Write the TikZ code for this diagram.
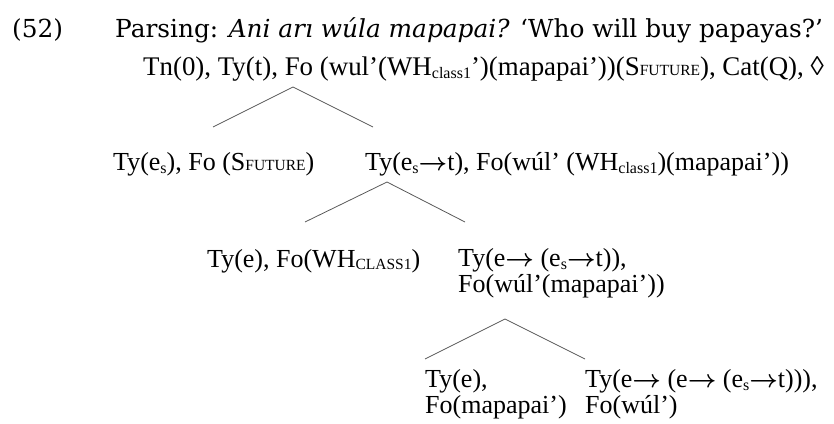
\documentclass[tikz,border=0pt]{standalone}
\usepackage{fontspec}
\setmainfont{Liberation Serif}
\newfontfamily\hdfont{DejaVu Serif}
\newcommand{\lowsub}[1]{\raisebox{-3pt}{\fontsize{16}{16}\selectfont #1}}
\newcommand{\fakesc}[1]{{\fontsize{15.5}{15.5}\selectfont #1}}
\newcommand{\arr}{{\boldmath$\rightarrow$}}

\begin{document}
\begin{tikzpicture}[x=1pt,y=-1pt,
    every node/.style={inner sep=0pt,anchor=base west,align=left,
      font=\fontsize{26}{26}\selectfont},
    head/.style={font=\hdfont\fontsize{24.8}{28}\selectfont},
    branch/.style={draw=black!65,line width=0.8pt}]
  \useasboundingbox (0,0) rectangle (834,423);
  \node[head] (EX) at (12,37) {(52)};
  \node[head] (PARSE) at (115,37) {Parsing: \textit{Ani arı wúla mapapai?} ‘Who will buy papayas?’};
  % root
  \node[font=\fontsize{26.9}{27}\selectfont] (TN) at (143,75) {Tn(0), Ty(t), Fo (wul’(WH\lowsub{class1}’)(mapapai’))(S\fakesc{FUTURE}), Cat(Q), ◊};
  % daughters (multi-line nodes sit on their last baseline)
  \node (ES) at (113,170) {Ty(e\lowsub{s}), Fo (S\fakesc{FUTURE})};
  \node (EST) at (365,170) {Ty(e\lowsub{s}\arr t), Fo(wúl’ (WH\lowsub{class1})(mapapai’))};
  \node (WH) at (207,267) {Ty(e), Fo(WH\raisebox{-2pt}{\fakesc{CLASS1}})};
  \node (EEST) at (458,292) {Ty(e\arr\ (e\lowsub{s}\arr t)),\\Fo(wúl’(mapapai’))};
  \node (E) at (425,413) {Ty(e),\\Fo(mapapai’)};
  \node (EEEST) at (585,413) {Ty(e\arr\ (e\arr\ (e\lowsub{s}\arr t))),\\Fo(wúl’)};
  % branching points
  \coordinate (top1) at (293,87);
  \coordinate (l1) at (213,127);
  \coordinate (r1) at (373,127);
  \coordinate (top2) at (387,182);
  \coordinate (l2) at (305,222);
  \coordinate (r2) at (465,222);
  \coordinate (top3) at (505,319);
  \coordinate (l3) at (425,359);
  \coordinate (r3) at (585,359);
  \draw[branch] (l1) -- (top1) -- (r1);
  \draw[branch] (l2) -- (top2) -- (r2);
  \draw[branch] (l3) -- (top3) -- (r3);
\end{tikzpicture}
\end{document}
